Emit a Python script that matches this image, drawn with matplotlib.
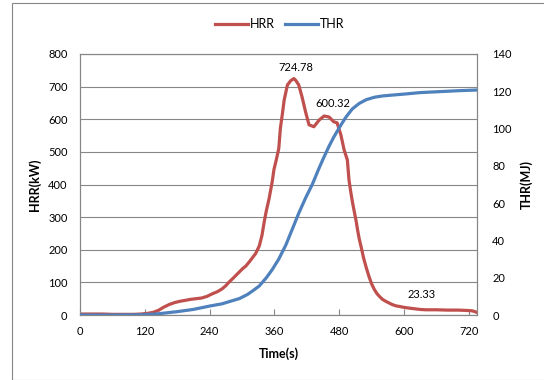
import matplotlib
matplotlib.use("Agg")
from matplotlib import pyplot as plt
from matplotlib.patches import Rectangle

# heat release rate (kW) over time (s)
hrr_time = [0, 20, 40, 60, 80, 100, 113, 125, 135, 145, 155, 165, 175, 185, 195,
            205, 215, 225, 235, 245, 255, 263, 270, 276, 283, 289, 295, 301, 307,
            313, 319, 325, 332, 337, 341, 345, 350, 356, 359, 364, 368, 371, 375,
            378, 384, 390, 396, 400, 405, 411, 418, 424, 433, 443, 452, 461, 470,
            476, 483, 489, 495, 498, 501, 504, 508, 511, 514, 517, 521, 525, 530,
            535, 540, 545, 550, 555, 560, 566, 572, 578, 585, 592, 600, 610, 620,
            630, 640, 660, 680, 700, 715, 725, 730, 736]
hrr_kw = [3, 3, 3, 2, 2, 2, 3, 5, 8, 14, 24, 32, 38, 42, 45,
          48, 50, 52, 57, 65, 72, 80, 90, 101, 112, 122, 132, 142, 150,
          162, 175, 188, 212, 245, 285, 320, 356, 410, 445, 480, 510, 573, 620,
          659, 705, 718, 724.78, 718, 705, 669, 620, 583, 577, 598, 610, 607, 592,
          589, 552, 506, 475, 414, 380, 350, 315, 290, 260, 233, 205, 175, 145,
          118, 95, 78, 65, 56, 48, 42, 37, 32, 28, 26, 23.33, 21, 19,
          17, 16, 16, 15, 15, 14, 13, 11, 7]

# total heat released (MJ) over time (s)
thr_time = [0, 60, 110, 140, 180, 210, 240, 263, 280, 295, 310, 320, 332, 345,
            356, 368, 381, 393, 405, 418, 430, 440, 449, 461, 470, 480, 492, 504,
            517, 530, 545, 560, 580, 604, 630, 665, 700, 736]
thr_mj = [0, 0, 0.1, 0.5, 1.8, 3, 4.8, 6, 7.5, 8.8, 11, 13, 15.6, 20,
          24.4, 30, 37.5, 46, 54.6, 63, 70, 77, 83, 90.5, 95.5, 100.5, 106, 110.5,
          113.5, 115.5, 116.8, 117.5, 118, 118.6, 119.3, 119.8, 120.3, 120.7]

x_ticks = [0, 120, 240, 360, 480, 600, 720]
hrr_ticks = list(range(0, 801, 100))
thr_ticks = list(range(0, 141, 20))

red = "#C0504D"
blue = "#4F81BD"
grey = "#868686"
plt.rcParams["font.family"] = ["Lato", "DejaVu Sans"]

fig = plt.figure(figsize=(5.44, 3.80), dpi=100)
fig.patches.append(Rectangle((12 / 544, 0), 1, 1 - 3 / 380, transform=fig.transFigure,
                             fill=False, edgecolor=grey, linewidth=0.8))
ax = fig.add_axes([80 / 544, 1 - 315 / 380, 397 / 544, 261 / 380])
ax2 = ax.twinx()

ax.plot(hrr_time, hrr_kw, color=red, linewidth=2.3, label="HRR", zorder=3)
ax2.plot(thr_time, thr_mj, color=blue, linewidth=2.3, label="THR", zorder=3)

ax.set_xlim(0, 735)
ax.set_ylim(0, 800)
ax2.set_ylim(0, 140)
ax.set_xticks(x_ticks)
ax.set_yticks(hrr_ticks)
ax2.set_yticks(thr_ticks)
ax.yaxis.grid(True, color=grey, linewidth=0.8)
ax.set_axisbelow(True)

ax.tick_params(axis="x", direction="in", length=4, color=grey, labelsize=8, pad=8)
ax.tick_params(axis="y", length=0, labelsize=8, pad=9)
ax2.tick_params(axis="y", length=0, labelsize=8, pad=11)
for a in (ax, ax2):
    for s in a.spines.values():
        s.set_color(grey)
        s.set_linewidth(0.8)

ax.set_xlabel("Time(s)", fontsize=9, fontweight="bold", labelpad=7)
ax.set_ylabel("HRR(kW)", fontsize=9, fontweight="bold", labelpad=5)
ax2.set_ylabel("THR(MJ)", fontsize=9, fontweight="bold", labelpad=6)

ax.text(400, 760, "724.78", ha="center", va="center", fontsize=8)
ax.text(468, 647, "600.32", ha="center", va="center", fontsize=8)
ax.text(633, 64, "23.33", ha="center", va="center", fontsize=8)

h1, l1 = ax.get_legend_handles_labels()
h2, l2 = ax2.get_legend_handles_labels()
fig.legend(h1 + h2, l1 + l2, loc="center", bbox_to_anchor=(280 / 544, 1 - 24 / 380),
           ncol=2, frameon=False, fontsize=9, handlelength=2.6, handletextpad=0.2,
           columnspacing=0.8)

fig.savefig("out.png", dpi=100)
